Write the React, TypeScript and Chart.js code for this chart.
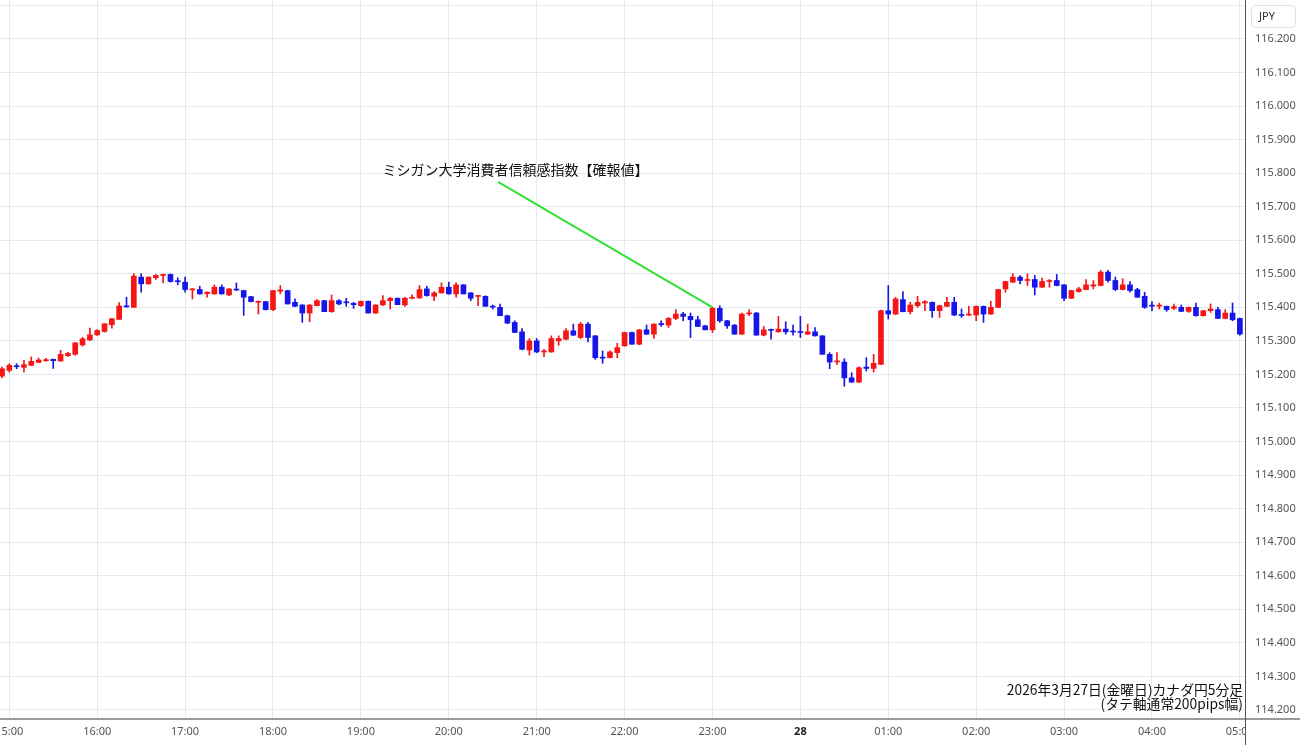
import React, { useEffect, useRef } from 'react';
import { Chart, registerables } from 'chart.js';

Chart.register(...registerables);

// 5-minute CAD/JPY candles, first candle 14:55, last 05:00
const FIRST_CANDLE_MIN = -5; // minutes relative to 15:00
const CANDLE_STEP_MIN = 5;

const OPEN = [
  115.195, 115.212, 115.226, 115.221, 115.227, 115.236, 115.241, 115.245, 115.240, 115.256,
  115.260, 115.288, 115.303, 115.318, 115.328, 115.348, 115.364, 115.404, 115.400, 115.490,
  115.470, 115.488, 115.495, 115.498, 115.479, 115.475, 115.452, 115.453, 115.441, 115.440,
  115.460, 115.437, 115.454, 115.450, 115.432, 115.415, 115.417, 115.393, 115.448, 115.450,
  115.415, 115.407, 115.383, 115.405, 115.420, 115.387, 115.420, 115.416, 115.412, 115.405,
  115.418, 115.383, 115.407, 115.420, 115.427, 115.407, 115.427, 115.428, 115.455, 115.433,
  115.443, 115.460, 115.440, 115.467, 115.443, 115.433, 115.433, 115.403, 115.400, 115.375,
  115.355, 115.327, 115.273, 115.300, 115.267, 115.267, 115.300, 115.305, 115.330, 115.310,
  115.350, 115.315, 115.251, 115.250, 115.265, 115.285, 115.325, 115.290, 115.333, 115.320,
  115.351, 115.347, 115.367, 115.380, 115.373, 115.363, 115.345, 115.333, 115.397, 115.360,
  115.347, 115.320, 115.381, 115.383, 115.317, 115.334, 115.327, 115.335, 115.329, 115.328,
  115.320, 115.327, 115.315, 115.260, 115.238, 115.237, 115.190, 115.177, 115.222, 115.218,
  115.230, 115.390, 115.380, 115.423, 115.387, 115.405, 115.413, 115.415, 115.390, 115.403,
  115.415, 115.378, 115.377, 115.377, 115.403, 115.380, 115.400, 115.455, 115.475, 115.490,
  115.480, 115.483, 115.460, 115.477, 115.480, 115.467, 115.427, 115.447, 115.453, 115.463,
  115.465, 115.505, 115.480, 115.453, 115.467, 115.453, 115.433, 115.406, 115.404, 115.403,
  115.397, 115.400, 115.388, 115.400, 115.375, 115.390, 115.393, 115.367, 115.383, 115.367,
];
const HIGH = [
  115.222, 115.232, 115.232, 115.242, 115.252, 115.249, 115.248, 115.246, 115.272, 115.266,
  115.295, 115.311, 115.338, 115.334, 115.351, 115.367, 115.414, 115.430, 115.500, 115.500,
  115.491, 115.498, 115.499, 115.500, 115.488, 115.490, 115.456, 115.463, 115.446, 115.467,
  115.467, 115.456, 115.473, 115.451, 115.433, 115.419, 115.418, 115.450, 115.465, 115.451,
  115.425, 115.408, 115.408, 115.423, 115.421, 115.437, 115.423, 115.427, 115.415, 115.419,
  115.419, 115.408, 115.435, 115.430, 115.428, 115.430, 115.437, 115.465, 115.463, 115.447,
  115.473, 115.475, 115.473, 115.468, 115.444, 115.436, 115.434, 115.407, 115.410, 115.377,
  115.360, 115.337, 115.307, 115.307, 115.275, 115.315, 115.315, 115.337, 115.350, 115.355,
  115.355, 115.316, 115.270, 115.270, 115.293, 115.326, 115.326, 115.334, 115.347, 115.351,
  115.360, 115.370, 115.393, 115.385, 115.383, 115.373, 115.346, 115.400, 115.405, 115.361,
  115.349, 115.383, 115.393, 115.385, 115.343, 115.335, 115.373, 115.357, 115.347, 115.373,
  115.350, 115.340, 115.316, 115.265, 115.265, 115.247, 115.205, 115.223, 115.250, 115.260,
  115.392, 115.465, 115.430, 115.447, 115.415, 115.433, 115.420, 115.416, 115.406, 115.430,
  115.430, 115.395, 115.403, 115.404, 115.404, 115.418, 115.453, 115.478, 115.500, 115.495,
  115.500, 115.495, 115.487, 115.483, 115.498, 115.468, 115.451, 115.460, 115.483, 115.480,
  115.510, 115.510, 115.490, 115.485, 115.477, 115.457, 115.445, 115.417, 115.413, 115.404,
  115.410, 115.407, 115.401, 115.413, 115.391, 115.410, 115.400, 115.393, 115.413, 115.368,
];
const LOW = [
  115.190, 115.207, 115.217, 115.207, 115.226, 115.235, 115.239, 115.218, 115.239, 115.254,
  115.257, 115.284, 115.301, 115.316, 115.326, 115.338, 115.364, 115.400, 115.400, 115.445,
  115.469, 115.483, 115.473, 115.475, 115.467, 115.445, 115.425, 115.439, 115.430, 115.439,
  115.439, 115.435, 115.450, 115.376, 115.416, 115.380, 115.392, 115.390, 115.440, 115.410,
  115.402, 115.355, 115.357, 115.404, 115.387, 115.385, 115.407, 115.403, 115.397, 115.403,
  115.383, 115.382, 115.406, 115.395, 115.408, 115.403, 115.426, 115.427, 115.433, 115.420,
  115.442, 115.439, 115.430, 115.440, 115.420, 115.405, 115.403, 115.395, 115.375, 115.351,
  115.325, 115.273, 115.258, 115.265, 115.253, 115.266, 115.287, 115.303, 115.316, 115.307,
  115.297, 115.245, 115.233, 115.249, 115.250, 115.284, 115.290, 115.289, 115.319, 115.307,
  115.343, 115.340, 115.363, 115.360, 115.310, 115.342, 115.333, 115.325, 115.355, 115.337,
  115.320, 115.319, 115.375, 115.317, 115.315, 115.305, 115.326, 115.320, 115.317, 115.310,
  115.319, 115.314, 115.260, 115.217, 115.230, 115.165, 115.176, 115.176, 115.210, 115.207,
  115.229, 115.365, 115.378, 115.386, 115.380, 115.400, 115.390, 115.370, 115.370, 115.402,
  115.375, 115.370, 115.375, 115.360, 115.355, 115.379, 115.399, 115.445, 115.474, 115.470,
  115.465, 115.437, 115.459, 115.460, 115.464, 115.420, 115.426, 115.445, 115.452, 115.455,
  115.464, 115.475, 115.450, 115.452, 115.445, 115.430, 115.397, 115.390, 115.395, 115.388,
  115.393, 115.387, 115.385, 115.374, 115.374, 115.385, 115.366, 115.366, 115.360, 115.317,
];
const CLOSE = [
  115.217, 115.227, 115.223, 115.229, 115.239, 115.243, 115.244, 115.241, 115.260, 115.263,
  115.294, 115.306, 115.318, 115.331, 115.351, 115.366, 115.404, 115.402, 115.493, 115.470,
  115.490, 115.495, 115.498, 115.477, 115.477, 115.453, 115.455, 115.440, 115.445, 115.460,
  115.440, 115.455, 115.452, 115.430, 115.417, 115.418, 115.393, 115.450, 115.452, 115.410,
  115.403, 115.383, 115.407, 115.420, 115.387, 115.420, 115.410, 115.414, 115.408, 115.418,
  115.383, 115.407, 115.420, 115.427, 115.408, 115.427, 115.430, 115.453, 115.435, 115.443,
  115.460, 115.440, 115.467, 115.440, 115.427, 115.435, 115.403, 115.401, 115.375, 115.353,
  115.325, 115.275, 115.300, 115.267, 115.270, 115.307, 115.307, 115.330, 115.317, 115.350,
  115.310, 115.250, 115.249, 115.267, 115.280, 115.325, 115.290, 115.333, 115.320, 115.350,
  115.349, 115.367, 115.380, 115.373, 115.363, 115.343, 115.333, 115.397, 115.360, 115.345,
  115.320, 115.380, 115.383, 115.317, 115.333, 115.332, 115.335, 115.327, 115.327, 115.325,
  115.327, 115.315, 115.260, 115.237, 115.240, 115.190, 115.177, 115.220, 115.218, 115.233,
  115.390, 115.380, 115.425, 115.387, 115.407, 115.415, 115.417, 115.390, 115.405, 115.415,
  115.377, 115.376, 115.380, 115.403, 115.380, 115.400, 115.453, 115.477, 115.490, 115.480,
  115.483, 115.460, 115.477, 115.480, 115.465, 115.427, 115.450, 115.455, 115.467, 115.467,
  115.505, 115.480, 115.453, 115.467, 115.450, 115.430, 115.400, 115.404, 115.406, 115.393,
  115.402, 115.388, 115.400, 115.375, 115.390, 115.395, 115.367, 115.383, 115.363, 115.320,
];

// Hourly x-axis ticks (minutes from 15:00) and their labels
const X_TICK_VALUES = [0, 60, 120, 180, 240, 300, 360, 420, 480, 540, 600, 660, 720, 780, 840];
const X_TICK_LABELS = ['15:00', '16:00', '17:00', '18:00', '19:00', '20:00', '21:00', '22:00',
  '23:00', '28', '01:00', '02:00', '03:00', '04:00', '05:00'];
const DAY_TICK_VALUE = 540;

const Y_TICK_VALUES = [114.2, 114.3, 114.4, 114.5, 114.6, 114.7, 114.8, 114.9, 115.0, 115.1,
  115.2, 115.3, 115.4, 115.5, 115.6, 115.7, 115.8, 115.9, 116.0, 116.1, 116.2, 116.3];
const Y_LABEL_MAX = 116.2;

const X_MIN = -6.35;
const X_MAX = 843.5;
const Y_MIN = 114.176;
const Y_MAX = 116.316;

const ANNOTATION_TEXT = 'ミシガン大学消費者信頼感指数【確報値】';
const ANNOTATION_LABEL = { t: 345.5, price: 115.81 };
const ANNOTATION_FROM = { t: 333.6, price: 115.774 };
const ANNOTATION_TO = { t: 480, price: 115.4 };

const FOOT_LINE_1 = '2026年3月27日(金曜日)カナダ円5分足';
const FOOT_LINE_2 = '(タテ軸通常200pips幅)';
const CURRENCY = 'JPY';

const UP_COLOR = '#f51616';
const DOWN_COLOR = '#1616e8';
const GRID_COLOR = '#e4ebf0';
const LABEL_FONT = "'Noto Sans', 'DejaVu Sans', sans-serif";
const JP_FONT = "'Noto Sans CJK JP', 'Noto Sans', sans-serif";

const candleTime = (i: number) => FIRST_CANDLE_MIN + i * CANDLE_STEP_MIN;

const overlayPlugin = {
  id: 'overlay',
  afterDraw(chart: any) {
    const { ctx, chartArea, scales } = chart;
    const xs = scales.x;
    const ys = scales.y;
    const W = chart.width;
    const H = chart.height;
    ctx.save();
    // cover label overflow below right axis
    ctx.fillStyle = '#ffffff';
    ctx.fillRect(chartArea.right + 1, chartArea.bottom + 1, W - chartArea.right, H - chartArea.bottom);
    // axis frame
    ctx.strokeStyle = '#9a9a9a';
    ctx.lineWidth = 2;
    ctx.beginPath();
    ctx.moveTo(0, chartArea.bottom + 1);
    ctx.lineTo(W, chartArea.bottom + 1);
    ctx.stroke();
    ctx.strokeStyle = '#555555';
    ctx.lineWidth = 1;
    ctx.beginPath();
    ctx.moveTo(Math.round(chartArea.right) + 0.5, 0);
    ctx.lineTo(Math.round(chartArea.right) + 0.5, H);
    ctx.stroke();

    // currency box
    const bx = chartArea.right + 6;
    const by = 5;
    const bw = 44;
    const bh = 22;
    ctx.fillStyle = '#ffffff';
    ctx.strokeStyle = '#e2e2e2';
    ctx.lineWidth = 1;
    ctx.beginPath();
    (ctx as any).roundRect(bx + 0.5, by + 0.5, bw, bh, 4);
    ctx.fill();
    ctx.stroke();
    ctx.fillStyle = '#333333';
    ctx.font = `11px ${LABEL_FONT}`;
    ctx.textAlign = 'left';
    ctx.textBaseline = 'middle';
    ctx.fillText(CURRENCY, bx + 8, by + bh / 2 + 1);

    // annotation
    ctx.strokeStyle = '#33e033';
    ctx.lineWidth = 2;
    ctx.beginPath();
    ctx.moveTo(xs.getPixelForValue(ANNOTATION_FROM.t), ys.getPixelForValue(ANNOTATION_FROM.price));
    ctx.lineTo(xs.getPixelForValue(ANNOTATION_TO.t), ys.getPixelForValue(ANNOTATION_TO.price));
    ctx.stroke();
    ctx.fillStyle = '#111111';
    ctx.font = `14px ${JP_FONT}`;
    ctx.textAlign = 'center';
    ctx.textBaseline = 'middle';
    ctx.fillText(ANNOTATION_TEXT, xs.getPixelForValue(ANNOTATION_LABEL.t), ys.getPixelForValue(ANNOTATION_LABEL.price));

    // footnote
    ctx.font = `13.8px ${JP_FONT}`;
    ctx.textAlign = 'right';
    ctx.fillStyle = '#111111';
    ctx.fillText(FOOT_LINE_1, chartArea.right - 2, chartArea.bottom - 28);
    ctx.fillText(FOOT_LINE_2, chartArea.right - 2, chartArea.bottom - 14);
    ctx.restore();
  },
};

export default function App() {
  const canvasRef = useRef<HTMLCanvasElement | null>(null);

  useEffect(() => {
    if (!canvasRef.current) return;
    const colors = OPEN.map((o, i) => (CLOSE[i] >= o ? UP_COLOR : DOWN_COLOR));
    const wicks = OPEN.map((_, i) => ({ x: candleTime(i), y: [LOW[i], HIGH[i]] }));
    const bodies = OPEN.map((o, i) => {
      const c = CLOSE[i];
      let lo = Math.min(o, c);
      let hi = Math.max(o, c);
      if (hi - lo < 0.003) {
        const m = (hi + lo) / 2;
        lo = m - 0.0015;
        hi = m + 0.0015;
      }
      return { x: candleTime(i), y: [lo, hi] };
    });

    const chart = new Chart(canvasRef.current, {
      type: 'bar',
      data: {
        datasets: [
          {
            label: 'wick',
            data: wicks as any,
            backgroundColor: colors,
            barThickness: 1,
            grouped: false,
            borderWidth: 0,
            order: 2,
          } as any,
          {
            label: 'body',
            data: bodies as any,
            backgroundColor: colors,
            barThickness: 5,
            grouped: false,
            borderWidth: 0,
            order: 1,
          } as any,
        ],
      },
      options: {
        responsive: false,
        animation: false,
        layout: { padding: 0 },
        plugins: {
          legend: { display: false },
          tooltip: { enabled: false },
        },
        scales: {
          x: {
            type: 'linear',
            position: 'bottom',
            min: X_MIN,
            max: X_MAX,
            offset: false,
            border: { display: false },
            grid: { color: GRID_COLOR, drawTicks: false, tickLength: 0, offset: false },
            afterBuildTicks: (scale: any) => {
              scale.ticks = X_TICK_VALUES.map((v) => ({ value: v }));
            },
            afterFit: (scale: any) => {
              scale.height = 27;
              scale.paddingLeft = 0;
              scale.paddingRight = 0;
            },
            ticks: {
              autoSkip: false,
              maxRotation: 0,
              minRotation: 0,
              padding: 7,
              color: (ctx: any) => (ctx.tick && ctx.tick.value === DAY_TICK_VALUE ? '#222222' : '#555555'),
              font: (ctx: any) => ({
                family: LABEL_FONT,
                size: 11,
                weight: ctx.tick && ctx.tick.value === DAY_TICK_VALUE ? 'bold' : 'normal',
              }),
              callback: (value: any) => {
                const idx = X_TICK_VALUES.indexOf(Number(value));
                return idx >= 0 ? X_TICK_LABELS[idx] : '';
              },
            },
          },
          y: {
            type: 'linear',
            position: 'right',
            min: Y_MIN,
            max: Y_MAX,
            border: { display: false },
            grid: { color: GRID_COLOR, drawTicks: false, tickLength: 0 },
            afterBuildTicks: (scale: any) => {
              scale.ticks = Y_TICK_VALUES.map((v) => ({ value: v }));
            },
            afterFit: (scale: any) => {
              scale.width = 55;
              scale.paddingTop = 0;
              scale.paddingBottom = 0;
            },
            ticks: {
              padding: 10,
              color: '#555555',
              font: { family: LABEL_FONT, size: 11 },
              callback: (value: any) => {
                const v = Number(value);
                return v > Y_LABEL_MAX + 0.01 ? '' : v.toFixed(3);
              },
            },
          },
        },
      } as any,
      plugins: [overlayPlugin],
    });

    return () => {
      chart.destroy();
    };
  }, []);

  return (
    <div style={{ position: 'fixed', left: 0, top: 0, width: 1300, height: 745, background: '#ffffff' }}>
      <canvas ref={canvasRef} width={1300} height={745} style={{ display: 'block', width: 1300, height: 745 }} />
    </div>
  );
}
